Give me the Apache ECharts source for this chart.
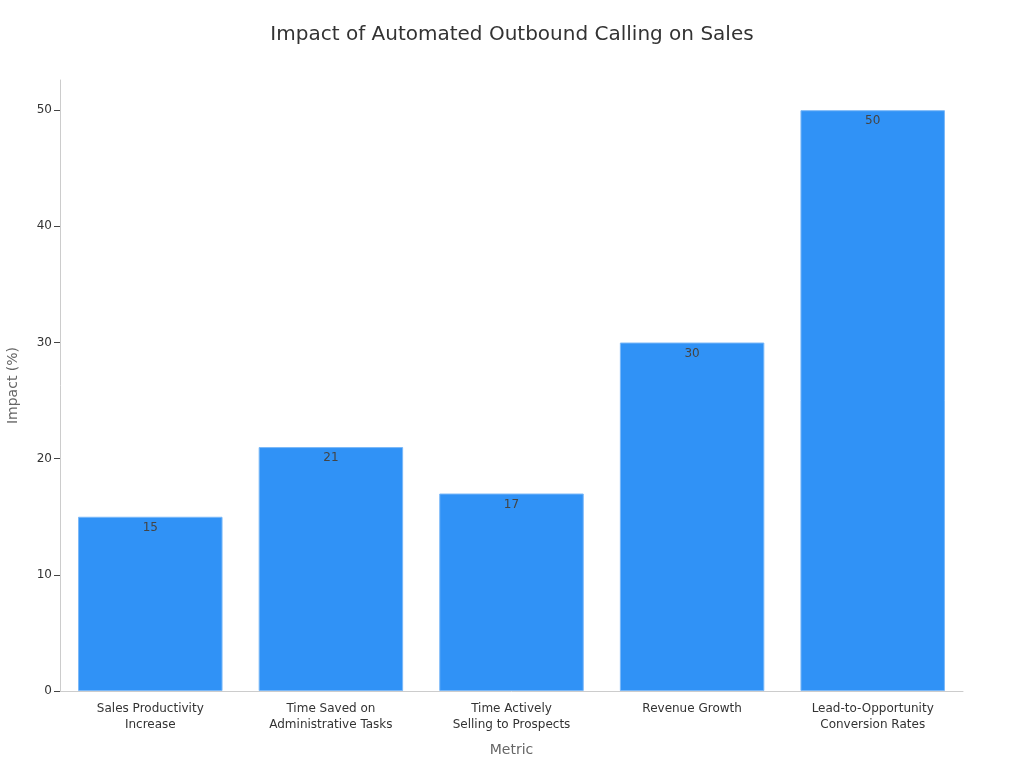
<!DOCTYPE html>
<html><head><meta charset="utf-8">
<script src="https://cdn.jsdelivr.net/npm/echarts@6/dist/echarts.min.js"></script>
<style>html,body{margin:0;padding:0;background:#fff}#c{width:1024px;height:768px}</style>
</head><body><div id="c"></div>
<script>
const categories = ["Sales Productivity\nIncrease", "Time Saved on\nAdministrative Tasks", "Time Actively\nSelling to Prospects", "Revenue Growth", "Lead-to-Opportunity\nConversion Rates"];
const values = [15, 21, 17, 30, 50];
const yTicks = [0, 10, 20, 30, 40, 50];

const chart = echarts.init(document.getElementById('c'), null, {renderer: 'canvas'});
const font = 'DejaVu Sans';
chart.setOption({
  animation: false,
  backgroundColor: '#fff',
  textStyle: {fontFamily: font},
  title: {
    text: 'Impact of Automated Outbound Calling on Sales',
    left: 'center', top: 20,
    textStyle: {fontFamily: font, fontSize: 20, fontWeight: 'normal', color: '#333'}
  },
  grid: {left: 60, right: 61, top: 80, bottom: 77, containLabel: false, outerBoundsMode: 'none'},
  xAxis: {
    type: 'category',
    data: categories,
    name: 'Metric',
    nameLocation: 'middle',
    nameGap: 52,
    nameTextStyle: {fontFamily: font, fontSize: 14, color: '#666'},
    axisLine: {lineStyle: {color: '#ccc'}},
    axisTick: {alignWithLabel: true, length: 5, lineStyle: {color: '#444'}},
    axisLabel: {fontFamily: font, fontSize: 12, color: '#333', margin: 10, lineHeight: 16, interval: 0}
  },
  yAxis: {
    type: 'value',
    min: 0, max: 52.6, interval: 10,
    name: 'Impact (%)',
    nameLocation: 'middle',
    nameGap: 40,
    nameTextStyle: {fontFamily: font, fontSize: 14, color: '#666'},
    axisLine: {show: true, lineStyle: {color: '#ccc'}},
    axisTick: {show: true, length: 6, lineStyle: {color: '#444'}, customValues: yTicks},
    axisLabel: {fontFamily: font, fontSize: 12, color: '#333', margin: 8, customValues: yTicks},
    splitLine: {show: false}
  },
  series: [{
    type: 'bar',
    data: values,
    barCategoryGap: '20%',
    itemStyle: {color: '#3092f6', borderColor: '#7ab8f8', borderWidth: 1},
    label: {show: true, position: 'insideTop', distance: 5, fontFamily: font, fontSize: 12, color: '#444'}
  }]
});
</script></body></html>
